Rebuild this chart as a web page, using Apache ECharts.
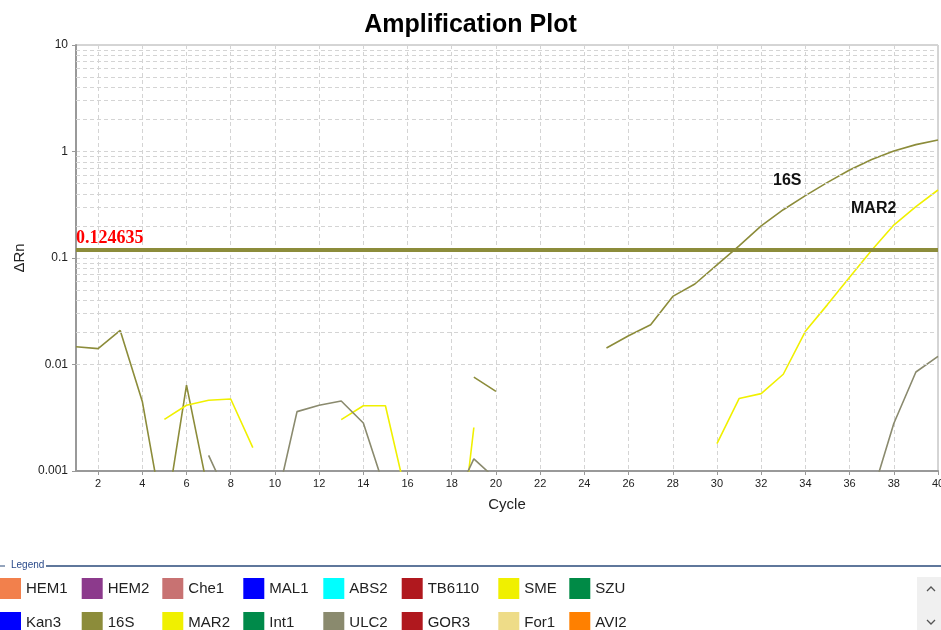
<!DOCTYPE html>
<html>
<head>
<meta charset="utf-8">
<script src="https://cdn.jsdelivr.net/npm/echarts@6/dist/echarts.min.js"></script>
<style>
html,body{margin:0;padding:0;background:#fff;}
#main{width:941px;height:630px;}
</style>
</head>
<body>
<div id="main"></div>
<script>
// ---- data ----
const cycles = ['1','2','3','4','5','6','7','8','9','10','11','12','13','14','15','16','17','18','19','20',
                '21','22','23','24','25','26','27','28','29','30','31','32','33','34','35','36','37','38','39','40'];
const yTickLabels = ['0.001','0.01','0.1','1','10'];
const threshold = 0.124635;

const s16S = [0.0147, 0.0141, 0.0209, 0.0045, 0.00031, 0.0064, 0.00061, null, null, null,
              null, null, null, null, null, null, null, null, 0.0076, 0.0056,
              null, null, null, null, 0.0143, 0.0186, 0.0236, 0.0436, 0.057, 0.086,
              0.13, 0.2, 0.284, 0.385, 0.513, 0.67, 0.84, 1.01, 1.16, 1.28];
const sMAR2 = [null, null, null, null, 0.00305, 0.00414, 0.00461, 0.00474, 0.00166, null,
               null, null, 0.00304, 0.0041, 0.0041, 0.00052, null, 0.000043, 0.00256, null,
               null, null, null, null, null, null, null, null, null, 0.00181,
               0.00479, 0.00533, 0.0081, 0.0205, 0.0365, 0.066, 0.118, 0.204, 0.303, 0.435];
const sULC2 = [null, null, null, null, null, null, 0.0014, 0.0005, null, 0.00044,
               0.00361, 0.00414, 0.00454, 0.00282, 0.00065, null, null, 0.00047, 0.0013, 0.00084,
               null, null, null, null, null, null, null, null, null, null,
               null, null, null, null, null, null, 0.00058, 0.00279, 0.0085, 0.0119];

const targetNames = ['HEM1','HEM2','Che1','MAL1','ABS2','TB6110','SME','SZU',
                     'Kan3','16S','MAR2','Int1','ULC2','GOR3','For1','AVI2'];
const seriesData = {'16S': s16S, 'MAR2': sMAR2, 'ULC2': sULC2};

const decades = [0.001, 0.01, 0.1, 1];
const multiples = [2,3,4,5,6,7,8,9];

// ---- styles ----
const colors = {
  HEM1:'#F2804C', HEM2:'#8C3A8C', Che1:'#C87272', MAL1:'#0000FF', ABS2:'#00FFFF',
  TB6110:'#B0181E', SME:'#F0F000', SZU:'#008A46', Kan3:'#0000FF', '16S':'#8C8C3A',
  MAR2:'#F0F000', Int1:'#008A4A', ULC2:'#8A8A6E', GOR3:'#B0181E', For1:'#EEDC88', AVI2:'#FF8000'
};

const minorValues = [];
decades.forEach(d => multiples.forEach(m => minorValues.push(+(d*m).toPrecision(3))));

const gridLineStyle = {color:'#d4d4d4', type:[4,3], width:1};

const series = targetNames.map(name => {
  const s = {
    name: name,
    type: 'line',
    data: seriesData[name] || [],
    color: colors[name],
    symbol: 'none',
    showSymbol: false,
    connectNulls: false,
    lineStyle: {width: 1.6, color: colors[name]},
    itemStyle: {color: colors[name]},
    emphasis: {disabled: true},
    z: 3
  };
  if (name === '16S') {
    s.markLine = {
      silent: true,
      symbol: ['none','none'],
      lineStyle: {color:'#8C8C3A', width:4, type:'solid'},
      label: {
        show: true, position: 'insideStartTop', formatter: '0.124635',
        color: '#FF0000', fontFamily: 'Liberation Serif', fontWeight: 'bold', fontSize: 18,
        distance: [0, 2], padding: 0
      },
      data: [{yAxis: threshold}],
      z: 5
    };
    s.markPoint = {
      silent: true, symbol: 'circle', symbolSize: 0,
      label: {show: true, position: 'inside', formatter: '16S', color:'#111',
              fontFamily:'Liberation Sans', fontWeight:'bold', fontSize:16, offset:[4,0]},
      data: [{coord: ['33', 0.53]}]
    };
  }
  if (name === 'MAR2') {
    s.markPoint = {
      silent: true, symbol: 'circle', symbolSize: 0,
      label: {show: true, position: 'inside', formatter: 'MAR2', color:'#111',
              fontFamily:'Liberation Sans', fontWeight:'bold', fontSize:16, offset:[2,0]},
      data: [{coord: ['37', 0.29]}]
    };
  }
  return s;
});

// minor horizontal grid lines
series.push({
  name: '__grid', type: 'line', data: [], silent: true, z: 1,
  markLine: {
    silent: true, symbol: ['none','none'], label: {show:false},
    lineStyle: gridLineStyle, animation: false,
    data: minorValues.map(v => ({yAxis: v}))
  }
});

// legend columns
const legendColumns = [['HEM1','Kan3'],['HEM2','16S'],['Che1','MAR2'],['MAL1','Int1'],
                       ['ABS2','ULC2'],['TB6110','GOR3'],['SME','For1'],['SZU','AVI2']];
const legendLefts = [0, 81.7, 162.3, 243.3, 323.3, 401.7, 498.3, 569.3];
const legends = legendColumns.map((col, i) => ({
  type: 'plain', orient: 'vertical', left: legendLefts[i], top: 578, height: 80, width: 100, padding: 0,
  itemWidth: 21, itemHeight: 21, itemGap: 13, icon: 'rect',
  selectedMode: false,
  textStyle: {fontFamily: 'Liberation Sans', fontSize: 15, color: '#222'},
  data: col
}));

const chart = echarts.init(document.getElementById('main'), null, {renderer: 'canvas'});
chart.setOption({
  animation: false,
  backgroundColor: '#fff',
  title: {
    text: 'Amplification Plot', left: 'center', top: 8,
    textStyle: {fontFamily: 'Liberation Sans', fontWeight: 'bold', fontSize: 25, color: '#000'}
  },
  grid: {left: 76, right: 3, top: 45, bottom: 159, show: true, borderColor: '#aaaaaa', borderWidth: 1,
         containLabel: false, outerBoundsMode: 'none'},
  xAxis: {
    type: 'category', data: cycles, boundaryGap: false,
    name: 'Cycle', nameLocation: 'middle', nameGap: 26,
    nameTextStyle: {fontFamily: 'Liberation Sans', fontSize: 15, color: '#222'},
    axisLine: {lineStyle: {color: '#999', width: 2}},
    axisTick: {show: true, length: 4, interval: (i) => i % 2 === 1, lineStyle:{color:'#999'}},
    axisLabel: {interval: (i) => i % 2 === 1, margin: 7, fontFamily: 'Liberation Sans', fontSize: 11, color: '#222',
                hideOverlap: false, showMaxLabel: true},
    splitLine: {show: true, interval: (i) => i % 2 === 1, lineStyle: gridLineStyle}
  },
  yAxis: {
    type: 'log', logBase: 10, min: 0.001, max: 10,
    name: 'ΔRn', nameLocation: 'middle', nameGap: 47, nameRotate: 90,
    nameTextStyle: {fontFamily: 'Liberation Sans', fontSize: 15, color: '#222'},
    axisLine: {show: true, lineStyle: {color: '#999', width: 2}},
    axisTick: {show: true, length: 4, lineStyle:{color:'#999'}},
    axisLabel: {
      margin: 8, fontFamily: 'Liberation Sans', fontSize: 12, color: '#222',
      formatter: (v) => yTickLabels[Math.round(Math.log10(v)) + 3]
    },
    splitLine: {show: true, lineStyle: gridLineStyle}
  },
  legend: legends,
  series: series,
  graphic: [
    {type:'line', shape:{x1:0, y1:566, x2:5, y2:566}, style:{stroke:'#2A4A7A', lineWidth:1}},
    {type:'text', left: 11, top: 560, style:{text:'Legend', fontFamily:'Liberation Sans', fontSize:10, fill:'#2A4A8A'}},
    {type:'line', shape:{x1:46, y1:566, x2:941, y2:566}, style:{stroke:'#2A4A7A', lineWidth:1.5}},
    {type:'rect', shape:{x:917, y:577, width:24, height:53}, style:{fill:'#f0f0f0'}},
    {type:'polyline', shape:{points:[[927,591],[931,587],[935,591]]}, style:{stroke:'#555', lineWidth:1.3, fill:null}},
    {type:'polyline', shape:{points:[[927,620],[931,624],[935,620]]}, style:{stroke:'#555', lineWidth:1.3, fill:null}}
  ]
});
</script>
</body>
</html>
